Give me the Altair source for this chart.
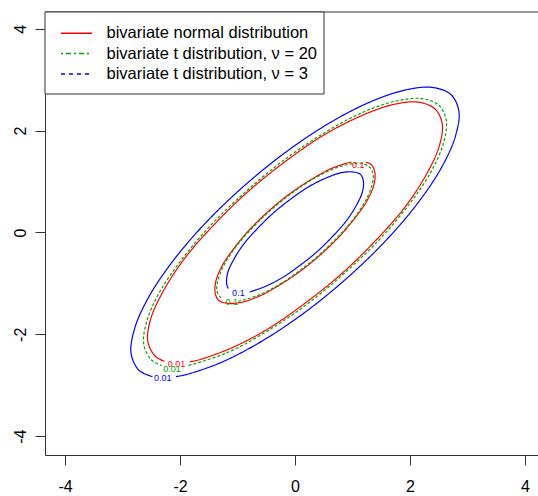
import altair as alt
import pandas as pd

# ---- contour paths (open paths: gap where the label sits) ----
# bivariate normal, level 0.01
n01_x = [-1.83,-1.70,-1.15,-0.51,0.15,0.81,1.41,1.92,2.29,2.51,2.56,2.43,2.14,1.70,1.15,0.51,-0.15,-0.81,-1.41,-1.92,-2.29,-2.51,-2.56,-2.43,-2.27]
n01_y = [-2.54,-2.51,-2.29,-1.92,-1.41,-0.81,-0.15,0.51,1.15,1.70,2.14,2.43,2.56,2.51,2.29,1.92,1.41,0.81,0.15,-0.51,-1.15,-1.70,-2.14,-2.43,-2.53]
# bivariate normal, level 0.1
n1_x = [0.98,0.93,0.62,0.28,-0.08,-0.44,-0.77,-1.04,-1.25,-1.37,-1.39,-1.33,-1.17,-0.93,-0.62,-0.28,0.08,0.44,0.77,1.04,1.25,1.37,1.39,1.33,1.23]
n1_y = [1.38,1.37,1.25,1.04,0.77,0.44,0.08,-0.28,-0.62,-0.93,-1.17,-1.33,-1.39,-1.37,-1.25,-1.04,-0.77,-0.44,-0.08,0.28,0.62,0.93,1.17,1.33,1.38]
# bivariate t, nu = 20, level 0.01
g01_x = [-1.85,-1.75,-1.18,-0.53,0.16,0.83,1.45,1.97,2.36,2.58,2.63,2.50,2.20,1.75,1.18,0.53,-0.16,-0.83,-1.45,-1.97,-2.36,-2.58,-2.63,-2.50,-2.32]
g01_y = [-2.61,-2.58,-2.36,-1.97,-1.45,-0.83,-0.16,0.53,1.18,1.75,2.20,2.50,2.63,2.58,2.36,1.97,1.45,0.83,0.16,-0.53,-1.18,-1.75,-2.20,-2.50,-2.61]
# bivariate t, nu = 20, level 0.1
g1_x = [-0.99,-0.90,-0.61,-0.27,0.08,0.43,0.75,1.02,1.22,1.33,1.36,1.29,1.14,0.90,0.61,0.27,-0.08,-0.43,-0.75,-1.02,-1.22,-1.33,-1.36,-1.29,-1.28]
g1_y = [-1.35,-1.33,-1.22,-1.02,-0.75,-0.43,-0.08,0.27,0.61,0.90,1.14,1.29,1.36,1.33,1.22,1.02,0.75,0.43,0.08,-0.27,-0.61,-0.90,-1.14,-1.29,-1.31]
# bivariate t, nu = 3, level 0.01
b01_x = [-2.07,-1.89,-1.28,-0.57,0.17,0.90,1.57,2.13,2.55,2.79,2.85,2.71,2.38,1.89,1.28,0.57,-0.17,-0.90,-1.57,-2.13,-2.55,-2.79,-2.85,-2.71,-2.48]
b01_y = [-2.83,-2.79,-2.55,-2.13,-1.57,-0.90,-0.17,0.57,1.28,1.89,2.38,2.71,2.85,2.79,2.55,2.13,1.57,0.90,0.17,-0.57,-1.28,-1.89,-2.38,-2.71,-2.83]
# bivariate t, nu = 3, level 0.1
b1_x = [-0.79,-0.54,-0.24,0.07,0.38,0.66,0.90,1.07,1.17,1.19,1.14,1.00,0.79,0.54,0.24,-0.07,-0.38,-0.66,-0.90,-1.07,-1.17,-1.19,-1.16]
b1_y = [-1.17,-1.07,-0.90,-0.66,-0.38,-0.07,0.24,0.54,0.79,1.00,1.14,1.19,1.17,1.07,0.90,0.66,0.38,0.07,-0.24,-0.54,-0.79,-1.00,-1.10]

# contour labels
lab_x = [1.10, -1.10, -0.985, -2.06, -2.14, -2.30]
lab_y = [1.33, -1.375, -1.18, -2.59, -2.69, -2.86]
lab_text = ["0.1", "0.1", "0.1", "0.01", "0.01", "0.01"]
lab_dist = ["normal", "t20", "t3", "normal", "t20", "t3"]

dists = ["normal", "t20", "t3"]
colors = ["#FF0000", "#00A800", "#0000FF"]
dashes = [[1, 0], [3, 2], [1, 0]]
x_ticks = [-4, -2, 0, 2, 4]
y_ticks = [-4, -2, 0, 2, 4]
legend_labels = ["bivariate normal distribution",
                 "bivariate t distribution, \u03bd = 20",
                 "bivariate t distribution, \u03bd = 3"]

rows = []
for dist, lvl, xs, ys in [("normal", "0.01", n01_x, n01_y), ("normal", "0.1", n1_x, n1_y),
                          ("t20", "0.01", g01_x, g01_y), ("t20", "0.1", g1_x, g1_y),
                          ("t3", "0.01", b01_x, b01_y), ("t3", "0.1", b1_x, b1_y)]:
    for i, (xv, yv) in enumerate(zip(xs, ys)):
        rows.append({"dist": dist, "grp": dist + lvl, "i": i, "x": xv, "y": yv})
df = pd.DataFrame(rows)
labels_df = pd.DataFrame({"x": lab_x, "y": lab_y, "t": lab_text, "dist": lab_dist})
one = pd.DataFrame({"a": [0]})

W, H = 493, 443
FONT = "Liberation Sans"

xscale = alt.Scale(domain=[-4.348, 4.226], nice=False, zero=False)
yscale = alt.Scale(domain=[-4.37, 4.33], nice=False, zero=False)
cscale = alt.Scale(domain=dists, range=colors)
dscale = alt.Scale(domain=dists, range=dashes)

xaxis = alt.Axis(values=x_ticks, title=None, grid=False, tickSize=10, labelFontSize=16,
                 labelFont=FONT, labelColor="black", labelPadding=13, domainColor="#333",
                 tickColor="#333", labelExpr="datum.value + ''")
yaxis = alt.Axis(values=y_ticks, title=None, grid=False, tickSize=10, labelFontSize=16,
                 labelFont=FONT, labelColor="black", labelPadding=7, labelAngle=270,
                 labelAlign="center", labelBaseline="bottom", domainColor="#333",
                 tickColor="#333", labelExpr="datum.value + ''")

lines = alt.Chart(df).mark_line(strokeWidth=1.2, interpolate="catmull-rom").encode(
    x=alt.X("x:Q", scale=xscale, axis=xaxis),
    y=alt.Y("y:Q", scale=yscale, axis=yaxis),
    color=alt.Color("dist:N", scale=cscale, legend=None),
    strokeDash=alt.StrokeDash("dist:N", scale=dscale, legend=None),
    detail="grp:N",
    order="i:Q",
)

clabels = alt.Chart(labels_df).mark_text(fontSize=9, font=FONT, baseline="middle", align="center").encode(
    x=alt.X("x:Q", scale=xscale),
    y=alt.Y("y:Q", scale=yscale),
    text="t:N",
    color=alt.Color("dist:N", scale=cscale, legend=None),
)

top_rule = alt.Chart(one).mark_rule(color="#333", strokeWidth=1).encode(
    x=alt.value(0), x2=alt.value(W), y=alt.value(0))

leg_box = alt.Chart(one).mark_rect(fill="white", stroke="#333", strokeWidth=1).encode(
    x=alt.value(0), x2=alt.value(279), y=alt.value(0), y2=alt.value(82))

leg_y = [21.3, 41.5, 62]
leg_dash = [[1, 0], [2, 3, 5, 3], [4, 4]]
leg_layers = []
for k in range(3):
    leg_layers.append(alt.Chart(one).mark_rule(color=colors[k], strokeWidth=1.4, strokeDash=leg_dash[k]).encode(
        x=alt.value(16), x2=alt.value(47), y=alt.value(leg_y[k])))
    leg_layers.append(alt.Chart(one).mark_text(align="left", baseline="middle", fontSize=16.5, font=FONT,
                                               color="black").encode(
        x=alt.value(61.5), y=alt.value(leg_y[k]), text=alt.value(legend_labels[k])))

chart = alt.layer(lines, clabels, top_rule, leg_box, *leg_layers).properties(
    width=W, height=H,
    padding={"left": 45, "top": 12, "right": 0, "bottom": 41},
    autosize="none",
    background="white",
).configure_view(stroke=None)

chart.save("out.html", embed_options={"renderer": "svg", "actions": False})
